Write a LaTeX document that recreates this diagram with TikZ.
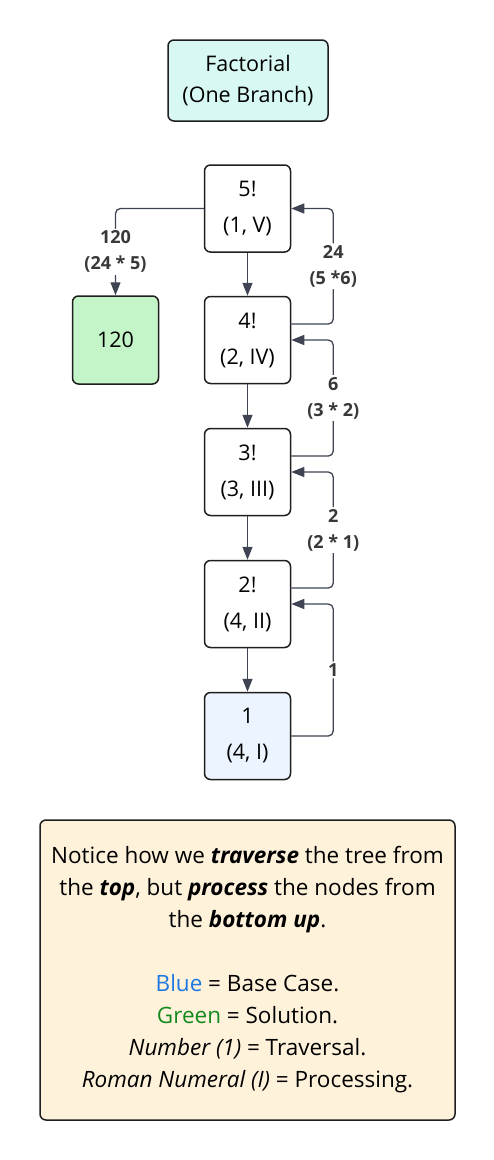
\documentclass[tikz,border=0pt]{standalone}
\usepackage{fontspec}
\setmainfont{Open Sans}
\usetikzlibrary{arrows.meta}

\definecolor{linecol}{HTML}{3E4451}
\definecolor{lblcol}{HTML}{383838}
\definecolor{boxline}{HTML}{1E1E1E}
\definecolor{titlefill}{HTML}{D8F9F3}
\definecolor{greenfill}{HTML}{C4F5C9}
\definecolor{bluefill}{HTML}{EBF4FF}
\definecolor{notefill}{HTML}{FFF2DB}
\definecolor{bluetxt}{HTML}{1E78E0}
\definecolor{greentxt}{HTML}{138A1E}

\begin{document}
\begin{tikzpicture}[x=1pt, y=-1pt,
    every node/.style={font=\fontsize{21.5}{36}\selectfont},
    fact/.style={draw=boxline, line width=1.5pt, rounded corners=6pt, minimum width=86pt, minimum height=87pt, align=center, inner sep=0pt},
    arr/.style={draw=linecol, line width=1.3pt, -{Triangle[length=13pt, width=10pt]}, rounded corners=5pt},
    lbl/.style={fill=white, text=lblcol, font=\bfseries\fontsize{18}{26}\selectfont, align=center, inner sep=2pt}]
    \useasboundingbox (0,0) rectangle (494,1160);

    % Title
    \node[fact, fill=titlefill, minimum width=160pt, minimum height=81pt, font=\fontsize{21.5}{31}\selectfont] (title) at (248,80.5) {Factorial\\(One Branch)};

    % Calls
    \node[fact] (n5) at (247.5,208.5) {5!\\(1, V)};
    \node[fact] (n4) at (247.5,340) {4!\\(2, IV)};
    \node[fact] (n3) at (247.5,472) {3!\\(3, III)};
    \node[fact] (n2) at (247.5,604) {2!\\(4, II)};
    \node[fact, fill=bluefill] (n1) at (247.5,736) {1\\(4, I)};
    \node[fact, fill=greenfill, minimum height=88pt] (res) at (115.5,340) {120};

    % Going down
    \draw[arr] (n5) -- (n4);
    \draw[arr] (n4) -- (n3);
    \draw[arr] (n3) -- (n2);
    \draw[arr] (n2) -- (n1);

    % Coming back up
    \draw[arr] (n1.east) -- ++(42,0) |- (n2.east) node[lbl, pos=0.25] {1};
    \draw[arr] (n2.20) -- ++(42,0) |- (n3.east) node[lbl, pos=0.25] {2\\(2 * 1)};
    \draw[arr] (n3.20) -- ++(42,0) |- (n4.east) node[lbl, pos=0.25] {6\\(3 * 2)};
    \draw[arr] (n4.20) -- ++(42,0) |- (n5.east) node[lbl, pos=0.25] {24\\(5 *6)};
    \draw[arr] (n5.west) -| (res.north) node[lbl, pos=0.75] {120\\(24 * 5)};

    % Note
    \node[fact, fill=notefill, minimum width=415pt, minimum height=300pt, font=\fontsize{22.5}{32}\selectfont] (note) at (247.5,970) {Notice how we \textbf{\textit{traverse}} the tree from\\
        the \textbf{\textit{top}}, but \textbf{\textit{process}} the nodes from\\
        the \textbf{\textit{bottom up}}.\\[32pt]
        \textcolor{bluetxt}{Blue} = Base Case.\\
        \textcolor{greentxt}{Green} = Solution.\\
        \textit{Number (1)} = Traversal.\\
        \textit{Roman Numeral (I)} = Processing.};
\end{tikzpicture}
\end{document}
